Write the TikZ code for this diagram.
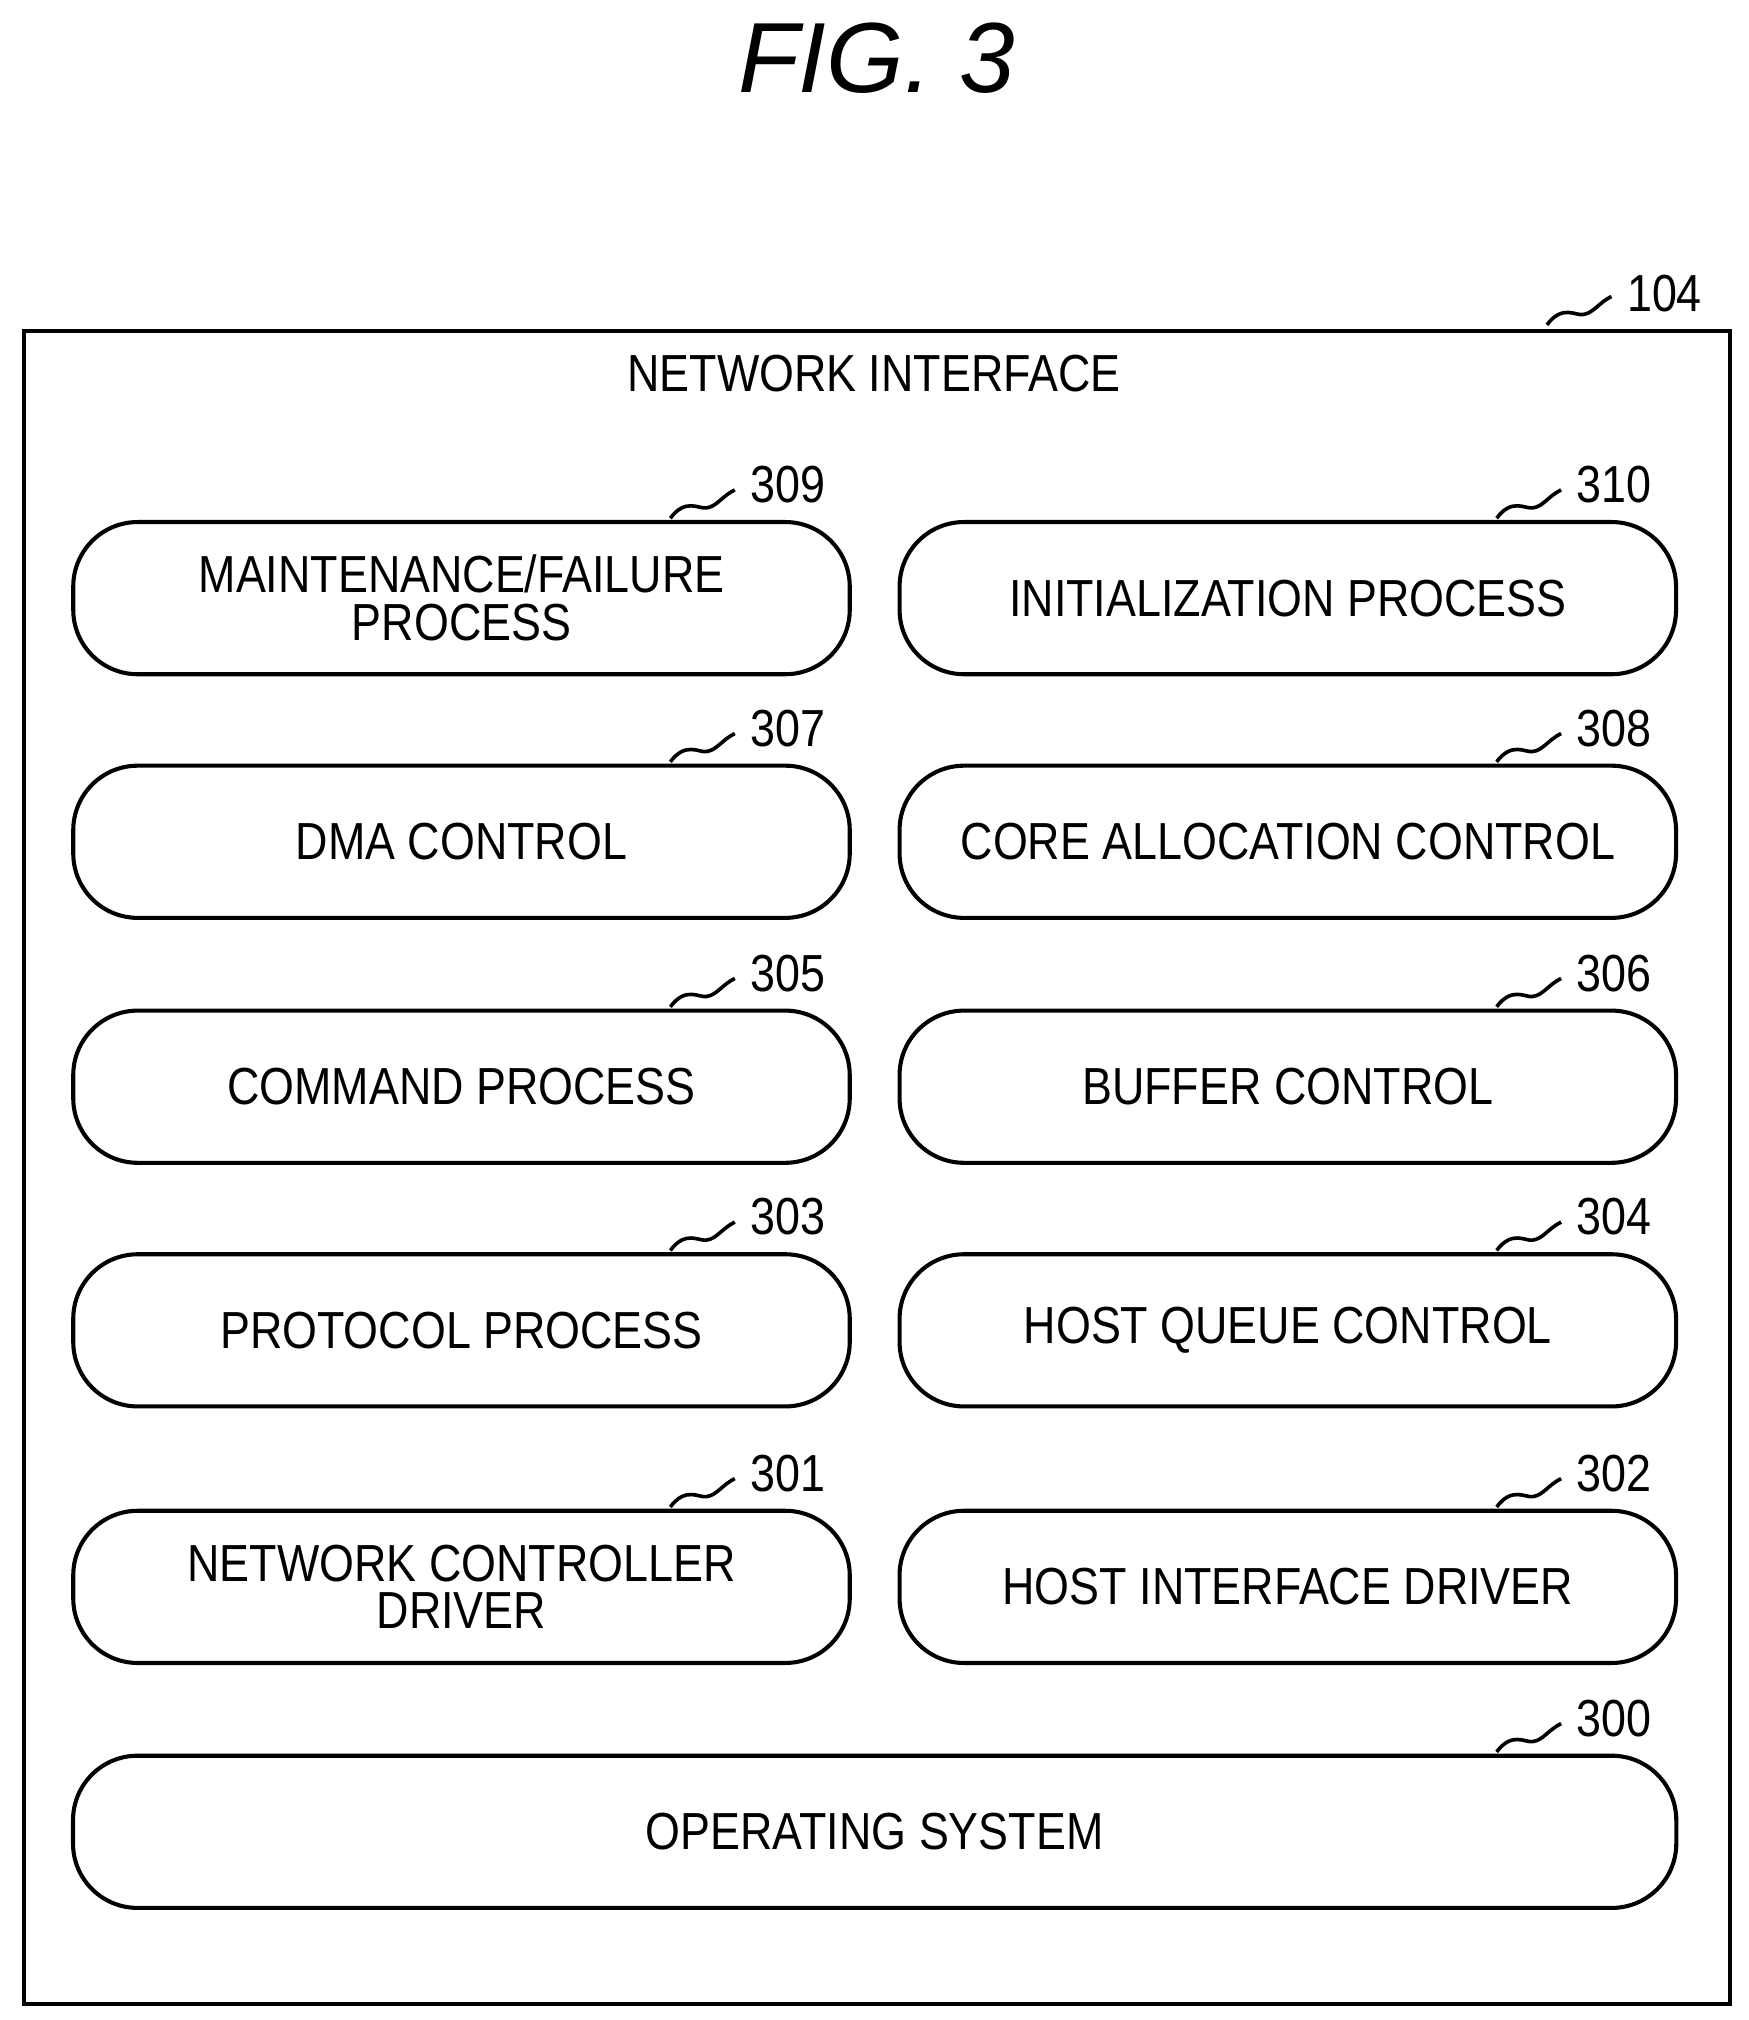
\documentclass[tikz,border=0pt]{standalone}
\usepackage{fontspec}
\setmainfont{Liberation Sans}[FakeStretch=0.86]
\newfontfamily\figfont{Liberation Sans}
\begin{document}
\begin{tikzpicture}[x=0.01cm,y=-0.01cm,
  box/.style={draw,line width=0.9pt,rounded corners=0.5cm,minimum height=1.18cm,align=center,font=\fontsize{11.5}{10.5}\selectfont},
  lbl/.style={font=\fontsize{11.5}{12}\selectfont,anchor=west,inner sep=1pt},
  sq/.style={line width=0.8pt}]
\useasboundingbox (0,0) rectangle (1356,1567);
\node[font=\figfont\itshape\fontsize{22}{22}\selectfont] (title) at (680,45) {FIG. 3};
\node[draw,line width=0.9pt,minimum width=13.23cm,minimum height=12.97cm,anchor=north west,inner sep=0] (ni) at (17,255) {};
\node[font=\fontsize{11.5}{12}\selectfont] (nit) at (678,290) {NETWORK INTERFACE};
\node[lbl] (l104) at (1258,228) {104};
\coordinate (c104) at (1200,252);
\draw[sq] (c104) .. controls (1212,236) and (1222,245) .. (1228,244) .. controls (1236,243) and (1240,235) .. (1250,230);
\foreach \n/\x/\y/\t/\num in {
 309/358/464/{MAINTENANCE/FAILURE\\PROCESS}/309,
 310/999/464/{INITIALIZATION PROCESS}/310,
 307/358/653/{DMA CONTROL}/307,
 308/999/653/{CORE ALLOCATION CONTROL}/308,
 305/358/843/{COMMAND PROCESS}/305,
 306/999/843/{BUFFER CONTROL}/306,
 303/358/1032/{PROTOCOL PROCESS}/303,
 304/999/1032/{HOST QUEUE CONTROL}/304,
 301/358/1231/{NETWORK CONTROLLER\\DRIVER}/301,
 302/999/1231/{HOST INTERFACE DRIVER}/302}{
  \node[box,minimum width=6.02cm] (b\n) at (\x,\y) {\t};
  \node[lbl] (l\n) at (\x+220,\y-88) {\num};
  \coordinate (c\n) at (\x+162,\y-62);
  \draw[sq] (c\n) .. controls (\x+174,\y-78) and (\x+184,\y-69) .. (\x+190,\y-70) .. controls (\x+198,\y-71) and (\x+202,\y-79) .. (\x+212,\y-84);
}
\node[box,minimum width=12.43cm] (b300) at (678.5,1421) {OPERATING SYSTEM};
\node[lbl] (l300) at (1219,1333) {300};
\coordinate (c300) at (1161,1359);
\draw[sq] (c300) .. controls (1173,1343) and (1183,1352) .. (1189,1351) .. controls (1197,1350) and (1201,1342) .. (1211,1337);
\end{tikzpicture}
\end{document}
